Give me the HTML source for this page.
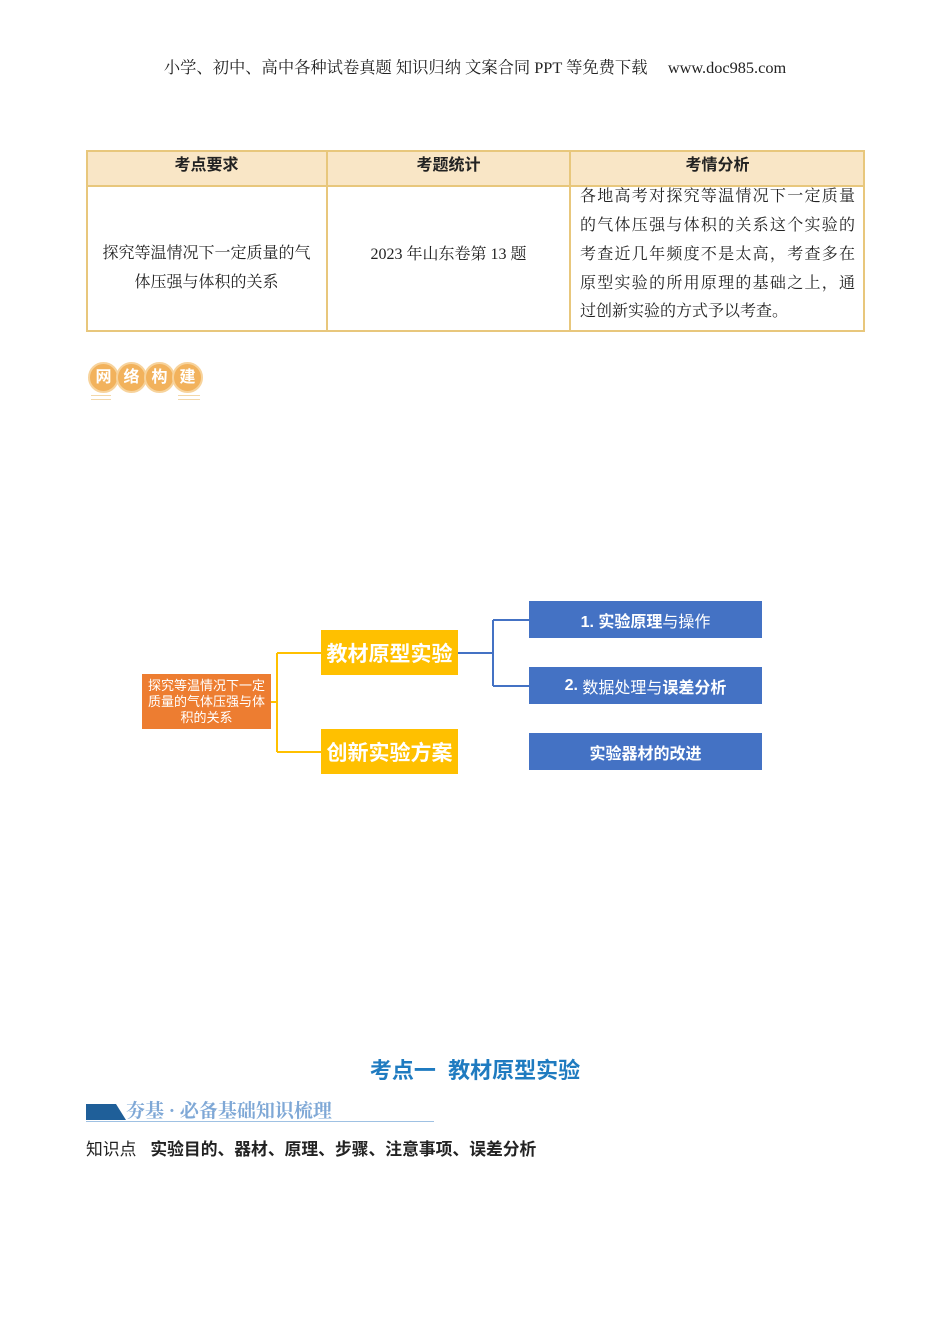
<!DOCTYPE html>
<html><head><meta charset="utf-8"><style>
body{margin:0;width:950px;height:1344px;background:#fff;position:relative;font-family:"Liberation Serif","Noto Serif CJK SC",serif;color:#222}
.a{position:absolute}
.s{font-family:"Liberation Sans","Noto Sans CJK SC",sans-serif}
.h{font-family:"Liberation Sans","Noto Sans CJK SC",sans-serif;font-size:16px;font-weight:bold;text-align:center;top:151px}
.j{left:580px;width:275px;font-size:16px;text-align:justify;text-align-last:justify;height:29px;line-height:29px}
.c{width:27px;height:27px;border-radius:50%;background:#f2b25c;border:2px solid #f7d39c;color:#fff;font-weight:bold;font-size:16px;text-align:center;line-height:27px;top:362px;font-family:"Liberation Sans","Noto Sans CJK SC",sans-serif}
.box{display:flex;align-items:center;justify-content:center;text-align:center;color:#fff;font-family:"Liberation Sans","Noto Sans CJK SC",sans-serif}
.y{background:#ffc000;font-size:21px;font-weight:bold;left:321px;width:137px;height:45px}
.b{background:#4472c4;font-size:16px;left:529px;width:233px;height:37px}
</style></head><body>
<div class="a" style="left:0;width:950px;top:54px;text-align:center;font-size:16.3px">小学、初中、高中各种试卷真题 知识归纳 文案合同 PPT 等免费下载 &nbsp;&nbsp;&nbsp;&nbsp;www.doc985.com</div>

<div class="a" style="left:86px;top:150px;width:775px;height:35px;background:#f9e6c6;border:2px solid #e8c77c;border-bottom:none"></div>
<div class="a" style="left:86px;top:185px;width:775px;height:143px;border:2px solid #e8c77c"></div>
<div class="a" style="left:326px;top:150px;width:2px;height:180px;background:#e8c77c"></div>
<div class="a" style="left:569px;top:150px;width:2px;height:180px;background:#e8c77c"></div>
<div class="a h" style="left:86px;width:241px">考点要求</div>
<div class="a h" style="left:327px;width:243px">考题统计</div>
<div class="a h" style="left:570px;width:295px">考情分析</div>
<div class="a" style="left:86px;width:241px;top:239px;text-align:center;font-size:16px;line-height:29px">探究等温情况下一定质量的气<br>体压强与体积的关系</div>
<div class="a" style="left:327px;width:243px;top:241px;text-align:center;font-size:16px">2023 年山东卷第 13 题</div>
<div class="a j" style="top:182px">各地高考对探究等温情况下一定质量</div>
<div class="a j" style="top:211px">的气体压强与体积的关系这个实验的</div>
<div class="a j" style="top:240px">考查近几年频度不是太高，考查多在</div>
<div class="a j" style="top:269px">原型实验的所用原理的基础之上，通</div>
<div class="a" style="left:580px;top:297px;font-size:16px;line-height:29px">过创新实验的方式予以考查。</div>

<div class="a c" style="left:88px">网</div><div class="a c" style="left:116px">络</div><div class="a c" style="left:144px">构</div><div class="a c" style="left:172px">建</div>
<div class="a" style="left:91px;top:395px;width:20px;height:3px;border-top:1px solid #f3d7a8;border-bottom:1px solid #f3d7a8"></div>
<div class="a" style="left:178px;top:395px;width:22px;height:3px;border-top:1px solid #f3d7a8;border-bottom:1px solid #f3d7a8"></div>

<svg class="a" style="left:0;top:0" width="950" height="1344">
<g stroke="#ffc000" stroke-width="2" fill="none"><path d="M271 702H277M277 653V752M277 653H321M277 752H321"/></g>
<g stroke="#4472c4" stroke-width="2" fill="none"><path d="M458 653H493M493 620V686M493 620H529M493 686H529"/></g>
</svg>
<div class="a box" style="left:142px;top:674px;width:129px;height:55px;background:#ed7d31;font-size:13px;line-height:16px">探究等温情况下一定质量的气体压强与体积的关系</div>
<div class="a box y" style="top:630px">教材原型实验</div>
<div class="a box y" style="top:729px">创新实验方案</div>
<div class="a box b" style="top:601px"><b>1. 实验原理</b>与操作</div>
<div class="a box b" style="top:667px"><b>2.</b>&nbsp;数据处理与<b>误差分析</b></div>
<div class="a box b" style="top:733px;font-weight:bold">实验器材的改进</div>

<div class="a s" style="left:0;width:950px;top:1053px;text-align:center;font-size:22px;font-weight:bold;color:#1f7bc0">考点一&nbsp; 教材原型实验</div>
<svg class="a" style="left:86px;top:1104px" width="40" height="18"><polygon points="0,0 30,0 40,16 0,16" fill="#1f5f99"/></svg>
<div class="a" style="left:126px;top:1096px;font-size:19px;font-weight:bold;color:#7fa8d6">夯基 · 必备基础知识梳理</div>
<div class="a" style="left:86px;top:1121px;width:348px;height:1px;background:#9fc1e3"></div>
<div class="a s" style="left:86px;top:1136px;font-size:16.8px">知识点&nbsp;&nbsp;&nbsp;<b>实验目的、器材、原理、步骤、注意事项、误差分析</b></div>
</body></html>
